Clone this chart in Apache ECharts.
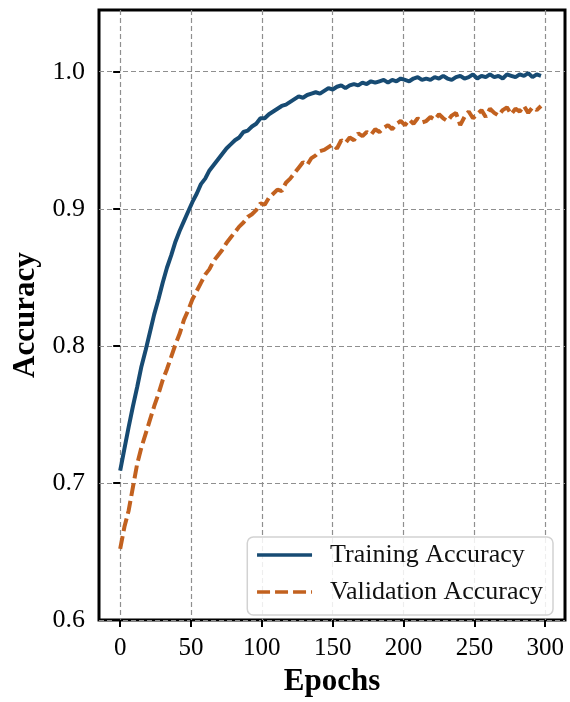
<!DOCTYPE html>
<html>
<head>
<meta charset="utf-8">
<script src="https://cdn.jsdelivr.net/npm/echarts@6/dist/echarts.min.js"></script>
<style>
html, body { margin: 0; padding: 0; background: #fff; }
#chart { width: 570px; height: 702px; }
</style>
</head>
<body>
<div id="chart"></div>
<script>
// accuracy, one value every 3 epochs (0, 3, ..., 297)
var step = 3;
var trainAcc = [
    0.709, 0.725, 0.741, 0.756, 0.770, 0.785, 0.797, 0.810, 0.823, 0.834,
    0.846, 0.857, 0.866, 0.876, 0.884, 0.891, 0.898, 0.905, 0.911, 0.918,
    0.922, 0.928, 0.932, 0.936, 0.940, 0.944, 0.947, 0.950, 0.952, 0.956,
    0.957, 0.960, 0.962, 0.966, 0.966, 0.969, 0.971, 0.973, 0.975, 0.976,
    0.978, 0.980, 0.982, 0.981, 0.983, 0.984, 0.985, 0.984, 0.986, 0.988,
    0.987, 0.989, 0.990, 0.988, 0.990, 0.991, 0.990, 0.992, 0.991, 0.993,
    0.992, 0.993, 0.994, 0.992, 0.994, 0.993, 0.995, 0.994, 0.993, 0.995,
    0.996, 0.994, 0.995, 0.994, 0.996, 0.995, 0.997, 0.995, 0.994, 0.996,
    0.997, 0.995, 0.996, 0.998, 0.995, 0.997, 0.996, 0.998, 0.996, 0.997,
    0.995, 0.998, 0.997, 0.996, 0.998, 0.997, 0.999, 0.996, 0.998, 0.997
];
var valAcc = [
    0.652, 0.668, 0.680, 0.697, 0.714, 0.726, 0.736, 0.746, 0.756, 0.765,
    0.775, 0.783, 0.792, 0.801, 0.809, 0.819, 0.826, 0.834, 0.840, 0.846,
    0.852, 0.856, 0.862, 0.866, 0.870, 0.875, 0.879, 0.883, 0.887, 0.890,
    0.894, 0.896, 0.899, 0.904, 0.903, 0.908, 0.911, 0.914, 0.913, 0.919,
    0.922, 0.926, 0.930, 0.934, 0.932, 0.937, 0.939, 0.942, 0.943, 0.945,
    0.947, 0.944, 0.950, 0.948, 0.952, 0.950, 0.955, 0.953, 0.956, 0.954,
    0.958, 0.956, 0.959, 0.961, 0.958, 0.962, 0.964, 0.961, 0.965, 0.962,
    0.966, 0.963, 0.964, 0.967, 0.965, 0.969, 0.966, 0.964, 0.968, 0.970,
    0.961, 0.967, 0.971, 0.966, 0.969, 0.972, 0.967, 0.973, 0.970, 0.968,
    0.972, 0.974, 0.969, 0.973, 0.971, 0.975, 0.970, 0.974, 0.972, 0.975
];
var xTicks = [0, 50, 100, 150, 200, 250, 300];
var yTicks = [0.6, 0.7, 0.8, 0.9, 1.0];
var seriesNames = ["Training Accuracy", "Validation Accuracy"];

function toPoints(vals) {
    return vals.map(function(v, i) { return [i * step, v]; });
}

var serif = "Liberation Serif";
var myChart = echarts.init(document.getElementById("chart"));
var gridLine = { show: true, lineStyle: { color: "#8f8f8f", width: 1.2, type: [5, 3] } };
var tick = { show: true, inside: false, length: 7, lineStyle: { color: "#000", width: 2 } };

var option = {
    backgroundColor: "#fff",
    animation: false,
    grid: {
        left: 99, right: 5, top: 10, bottom: 77,
        show: true, borderColor: "#000", borderWidth: 3
    },
    legend: {
        orient: "vertical",
        right: 17,
        top: 537,
        itemWidth: 55,
        itemHeight: 14,
        itemGap: 11,
        padding: [5, 10, 10, 8],
        backgroundColor: "rgba(255,255,255,0.85)",
        borderColor: "#d2d2d2",
        borderWidth: 1.5,
        borderRadius: 6,
        // hide the symbol echarts puts in the middle of a line legend icon
        itemStyle: { color: "transparent", borderColor: "transparent", borderWidth: 0, opacity: 0 },
        lineStyle: { width: 3.5 },
        textStyle: { fontFamily: serif, fontSize: 26, color: "#111", padding: [0, 0, 0, 13] },
        data: seriesNames
    },
    xAxis: {
        type: "value",
        min: -14.95,
        max: 313.95,
        name: "Epochs",
        nameLocation: "middle",
        nameGap: 45,
        nameTextStyle: { fontFamily: serif, fontSize: 31, fontWeight: "bold", color: "#000" },
        axisLine: { show: false },
        axisTick: Object.assign({ customValues: xTicks }, tick),
        axisLabel: { customValues: xTicks, fontFamily: serif, fontSize: 25, color: "#000", margin: 16 },
        splitLine: gridLine
    },
    yAxis: {
        type: "value",
        min: 0.6,
        max: 1.045,
        name: "Accuracy",
        nameLocation: "middle",
        nameGap: 58,
        nameTextStyle: { fontFamily: serif, fontSize: 31, fontWeight: "bold", color: "#000" },
        axisLine: { show: false },
        axisTick: Object.assign({ customValues: yTicks }, tick),
        axisLabel: {
            customValues: yTicks, fontFamily: serif, fontSize: 26, color: "#000", margin: 14,
            formatter: function(v) { return v.toFixed(1); }
        },
        splitLine: gridLine
    },
    series: [{
            name: seriesNames[0],
            type: "line",
            data: toPoints(trainAcc),
            showSymbol: false,
            symbol: "none",
            itemStyle: { color: "#174b73" },
            lineStyle: { color: "#174b73", width: 4 },
            z: 3
        },
        {
            name: seriesNames[1],
            type: "line",
            data: toPoints(valAcc),
            showSymbol: false,
            symbol: "none",
            itemStyle: { color: "#c2611f" },
            lineStyle: { color: "#c2611f", width: 4, type: [13, 5] },
            z: 2
        }
    ]
};
myChart.setOption(option);
</script>
</body>
</html>
